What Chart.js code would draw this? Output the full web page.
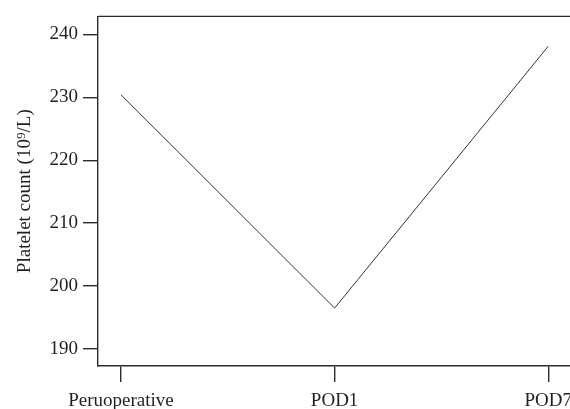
<!DOCTYPE html>
<html>
<head>
<meta charset="utf-8">
<script src="https://cdn.jsdelivr.net/npm/chart.js@4"></script>
<style>
  html, body { margin: 0; padding: 0; background: #fff; overflow: hidden; }
  #wrap { width: 580px; height: 409px; position: relative; }
</style>
</head>
<body>
<div id="wrap"><canvas id="mainChart"></canvas></div>
<script>
const categories = ["Peruoperative", "POD1", "POD7"];
const plateletCount = [230.4, 196.5, 238.1];
const yTicks = [190, 200, 210, 220, 230, 240];

const ink = "#2b2b2b";
const serif = "'Liberation Serif', 'DejaVu Serif', serif";

// top frame line (the chart is boxed on top and left/bottom)
const topBorder = {
  id: "topBorder",
  afterDraw(chart) {
    const { ctx, chartArea } = chart;
    ctx.save();
    ctx.strokeStyle = ink;
    ctx.lineWidth = 1.4;
    ctx.beginPath();
    ctx.moveTo(chartArea.left, chartArea.top);
    ctx.lineTo(chartArea.right + 2, chartArea.top);
    ctx.stroke();
    ctx.restore();
  },
};

const ctx = document.getElementById("mainChart").getContext("2d");
new Chart(ctx, {
  type: "line",
  data: {
    datasets: [
      {
        data: plateletCount.map((v, i) => ({ x: i, y: v })),
        borderColor: "#333",
        borderWidth: 1,
        pointRadius: 0,
        tension: 0,
      },
    ],
  },
  options: {
    responsive: true,
    maintainAspectRatio: false,
    animation: false,
    layout: { padding: { top: 15, right: 0, left: 0, bottom: 0 } },
    plugins: { legend: { display: false }, tooltip: { enabled: false } },
    scales: {
      x: {
        type: "linear",
        min: -0.1075,
        max: 2.145,
        afterBuildTicks(scale) {
          scale.ticks = categories.map((c, i) => ({ value: i }));
        },
        afterFit(scale) {
          scale.height = 43;
        },
        ticks: {
          color: "#231f20",
          font: { family: serif, size: 19 },
          padding: 8,
          maxRotation: 0,
          callback: (v) => categories[v],
        },
        grid: {
          drawOnChartArea: false,
          tickLength: 16,
          color: ink,
          lineWidth: 1.4,
        },
        border: { display: true, color: ink, width: 1.4 },
      },
      y: {
        min: 187.3,
        max: 242.85,
        afterBuildTicks(scale) {
          scale.ticks = yTicks.map((v) => ({ value: v }));
        },
        afterFit(scale) {
          scale.width = 98;
        },
        ticks: {
          color: "#231f20",
          font: { family: serif, size: 19 },
          padding: 5,
        },
        grid: {
          drawOnChartArea: false,
          tickLength: 15,
          color: ink,
          lineWidth: 1.4,
        },
        border: { display: true, color: ink, width: 1.4 },
        title: {
          display: true,
          text: "Platelet count (10\u2079/L)",
          color: "#231f20",
          font: { family: serif, size: 19 },
          padding: { top: 14, bottom: 0 },
        },
      },
    },
  },
  plugins: [topBorder],
});
</script>
</body>
</html>
